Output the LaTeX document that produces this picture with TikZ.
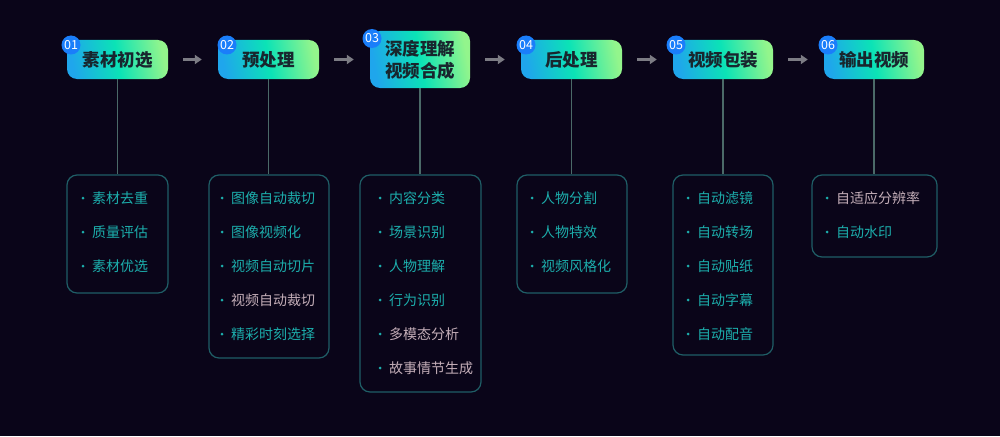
\documentclass[tikz,border=0pt]{standalone}
\usepackage{fontspec}
\setmainfont{Noto Sans CJK SC}
\usetikzlibrary{arrows.meta}
\definecolor{bg}{HTML}{0A0519}
\definecolor{hblue}{HTML}{1FA6EC}
\definecolor{hmid}{HTML}{0BE3B6}
\definecolor{hgreen}{HTML}{93F58C}
\definecolor{htext}{HTML}{18262E}
\definecolor{badge}{HTML}{1A7EFA}
\definecolor{lborder}{HTML}{1F5E66}
\definecolor{vline}{HTML}{4B6A68}
\definecolor{arr}{HTML}{7C7C84}
\definecolor{tl}{HTML}{1CAEAC}
\definecolor{pk}{HTML}{C4AEB8}
\tikzset{
  head/.style={rounded corners=10pt, left color=hblue, right color=hgreen, middle color=hmid, shading angle=100,
    text=htext, font=\fontsize{17.5}{22}\selectfont\bfseries, align=center, inner sep=0pt},
  listbox/.style={draw=lborder, line width=1.2pt, rounded corners=10pt, minimum width=#1, inner sep=0pt},
  badgenode/.style={circle, fill=badge, text=white, minimum size=19pt, inner sep=0pt, font=\fontsize{12.5}{12.5}\selectfont},
  item/.style={anchor=west, inner sep=0pt, font=\fontsize{14}{14}\selectfont},
  dot/.style={circle, fill=tl, minimum size=3pt, inner sep=0pt},
  flow/.style={draw=arr, line width=2.6pt, -{Triangle[length=7pt,width=9pt]}, shorten <=15pt, shorten >=16pt},
  vconn/.style={draw=vline, line width=1.2pt}
}
\begin{document}
\begin{tikzpicture}[x=1pt,y=-1pt]
\fill[bg] (0,0) rectangle (1000,436);
\useasboundingbox (0,0) rectangle (1000,436);

% headers
\node[head, minimum width=101pt, minimum height=39pt] (h1) at (117.5,59.5) {素材初选};
\node[head, minimum width=101pt, minimum height=39pt] (h2) at (268.5,59.5) {预处理};
\node[head, minimum width=100pt, minimum height=57pt] (h3) at (420,59.5) {深度理解\\视频合成};
\node[head, minimum width=101pt, minimum height=39pt] (h4) at (571.5,59.5) {后处理};
\node[head, minimum width=100pt, minimum height=39pt] (h5) at (723,59.5) {视频包装};
\node[head, minimum width=100pt, minimum height=39pt] (h6) at (874,59.5) {输出视频};

% badges
\node[badgenode] (b1) at (71,45) {01};
\node[badgenode] (b2) at (227,45) {02};
\node[badgenode] (b3) at (372,38.5) {03};
\node[badgenode] (b4) at (526,45) {04};
\node[badgenode] (b5) at (676,45) {05};
\node[badgenode] (b6) at (828,45) {06};

% flow arrows
\draw[flow] (h1.east) -- (h2.west);
\draw[flow] (h2.east) -- (h3.west);
\draw[flow] (h3.east) -- (h4.west);
\draw[flow] (h4.east) -- (h5.west);
\draw[flow] (h5.east) -- (h6.west);

% list boxes
\node[listbox=101pt, minimum height=118pt] (l1) at (117.5,234) {};
\node[listbox=120pt, minimum height=183pt] (l2) at (269,266.5) {};
\node[listbox=121pt, minimum height=217pt] (l3) at (420.5,283.5) {};
\node[listbox=110pt, minimum height=118pt] (l4) at (572,234) {};
\node[listbox=100pt, minimum height=180pt] (l5) at (723,265) {};
\node[listbox=125pt, minimum height=82pt] (l6) at (874.5,216) {};

% vertical connectors
\draw[vconn] (h1.south) -- (h1.south |- l1.north);
\draw[vconn] (h2.south) -- (h2.south |- l2.north);
\draw[vconn] (h3.south) -- (h3.south |- l3.north);
\draw[vconn] (h4.south) -- (h4.south |- l4.north);
\draw[vconn] (h5.south) -- (h5.south |- l5.north);
\draw[vconn] (h6.south) -- (h6.south |- l6.north);

% items
\foreach [count=\k] \t/\c in {素材去重/tl, 质量评估/tl, 素材优选/tl} {
  \node[dot] (d1-\k) at (83,{198+34*(\k-1)}) {};
  \node[item, text=\c] (t1-\k) at (92,{198+34*(\k-1)}) {\t};
}
\foreach [count=\k] \t/\c in {图像自动裁切/tl, 图像视频化/tl, 视频自动切片/tl, 视频自动裁切/pk, 精彩时刻选择/tl} {
  \node[dot] (d2-\k) at (222,{198+34*(\k-1)}) {};
  \node[item, text=\c] (t2-\k) at (231,{198+34*(\k-1)}) {\t};
}
\foreach [count=\k] \t/\c in {内容分类/tl, 场景识别/tl, 人物理解/tl, 行为识别/tl, 多模态分析/pk, 故事情节生成/pk} {
  \node[dot] (d3-\k) at (380,{198+34*(\k-1)}) {};
  \node[item, text=\c] (t3-\k) at (389,{198+34*(\k-1)}) {\t};
}
\foreach [count=\k] \t/\c in {人物分割/tl, 人物特效/tl, 视频风格化/tl} {
  \node[dot] (d4-\k) at (532,{198+34*(\k-1)}) {};
  \node[item, text=\c] (t4-\k) at (541,{198+34*(\k-1)}) {\t};
}
\foreach [count=\k] \t/\c in {自动滤镜/tl, 自动转场/tl, 自动贴纸/tl, 自动字幕/tl, 自动配音/tl} {
  \node[dot] (d5-\k) at (688,{198+34*(\k-1)}) {};
  \node[item, text=\c] (t5-\k) at (697,{198+34*(\k-1)}) {\t};
}
\foreach [count=\k] \t/\c in {自适应分辨率/pk, 自动水印/tl} {
  \node[dot] (d6-\k) at (827,{198+34*(\k-1)}) {};
  \node[item, text=\c] (t6-\k) at (836,{198+34*(\k-1)}) {\t};
}
\end{tikzpicture}
\end{document}
